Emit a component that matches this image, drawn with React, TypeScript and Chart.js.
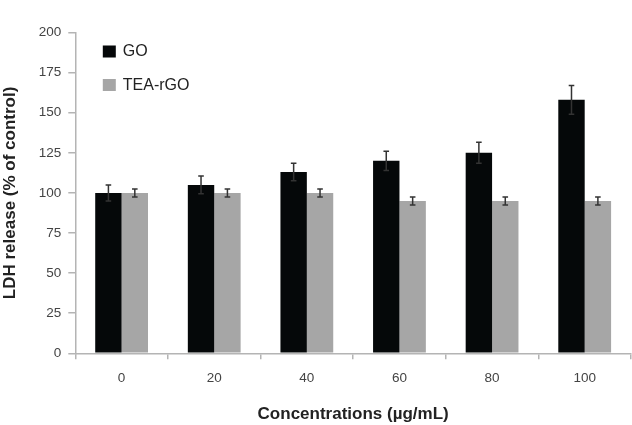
import React, { useRef, useEffect } from "react";
import { Chart, Plugin, registerables } from "chart.js";

Chart.register(...registerables);

const categories = ["0", "20", "40", "60", "80", "100"];
const goValues = [100, 105, 113, 120, 125, 158];
const goErrors = [5, 5.5, 5.5, 6, 6.5, 9];
const teaValues = [100, 100, 100, 95, 95, 95];
const teaErrors = [2.5, 2.5, 2.5, 2.5, 2.5, 2.5];
const seriesErrors = [goErrors, teaErrors];

const FONT = "'Liberation Sans', Arial, Helvetica, sans-serif";
const AXIS_COLOR = "#b4b4b4";

// error bars, placed from each bar element and the y scale
const errorBars: Plugin<"bar"> = {
  id: "errorBars",
  afterDatasetsDraw(chart) {
    const { ctx } = chart;
    const yScale = chart.scales.y;
    ctx.save();
    ctx.strokeStyle = "#333";
    ctx.lineWidth = 1.5;
    chart.data.datasets.forEach((ds, i) => {
      const meta = chart.getDatasetMeta(i);
      const errs = seriesErrors[i];
      meta.data.forEach((bar, j) => {
        const v = ds.data[j] as number;
        const top = yScale.getPixelForValue(v + errs[j]);
        const bot = yScale.getPixelForValue(v - errs[j]);
        const x = bar.x;
        ctx.beginPath();
        ctx.moveTo(x, top);
        ctx.lineTo(x, bot);
        ctx.moveTo(x - 2.8, top);
        ctx.lineTo(x + 2.8, top);
        ctx.moveTo(x - 2.8, bot);
        ctx.lineTo(x + 2.8, bot);
        ctx.stroke();
      });
    });
    ctx.restore();
  },
};

// legend in the upper left of the plot
const innerLegend: Plugin<"bar"> = {
  id: "innerLegend",
  afterDraw(chart) {
    const { ctx, chartArea } = chart;
    ctx.save();
    ctx.font = `16px ${FONT}`;
    ctx.textBaseline = "middle";
    chart.data.datasets.forEach((ds, i) => {
      const y = chartArea.top + 19 + i * 33.5;
      ctx.fillStyle = ds.backgroundColor as string;
      ctx.fillRect(chartArea.left + 27.5, y - 6, 13, 12);
      ctx.fillStyle = "#222";
      ctx.fillText(ds.label as string, chartArea.left + 47.5, y + 0.5);
    });
    ctx.restore();
  },
};

const LdhChart: React.FC = () => {
  const canvasRef = useRef<HTMLCanvasElement | null>(null);
  const chartRef = useRef<Chart | null>(null);

  useEffect(() => {
    if (!canvasRef.current) return;
    const ctx = canvasRef.current.getContext("2d");
    if (!ctx) return;

    chartRef.current = new Chart(ctx, {
      type: "bar",
      data: {
        labels: categories,
        datasets: [
          { label: "GO", data: goValues, backgroundColor: "#050809" },
          { label: "TEA-rGO", data: teaValues, backgroundColor: "#a6a6a6" },
        ],
      },
      options: {
        animation: false,
        responsive: true,
        maintainAspectRatio: false,
        layout: { padding: { top: 32.5, right: 1, left: 0, bottom: 0 } },
        datasets: { bar: { barPercentage: 1, categoryPercentage: 0.57 } },
        plugins: {
          legend: { display: false },
          tooltip: { enabled: false },
        },
        scales: {
          x: {
            grid: {
              drawOnChartArea: false,
              color: AXIS_COLOR,
              lineWidth: 1.5,
              tickLength: 6,
            },
            border: { color: AXIS_COLOR, width: 1.5 },
            ticks: { color: "#444", font: { family: FONT, size: 13.5 }, padding: 11 },
            title: {
              display: true,
              text: "Concentrations (µg/mL)",
              color: "#222",
              font: { family: FONT, size: 17, weight: "bold" },
              padding: { top: 0, bottom: 0 },
            },
            afterFit(scale) {
              scale.height = 71.7;
            },
          },
          y: {
            min: 0,
            max: 200,
            ticks: {
              stepSize: 25,
              color: "#444",
              font: { family: FONT, size: 13.5 },
              padding: 7,
            },
            grid: {
              drawOnChartArea: false,
              color: AXIS_COLOR,
              lineWidth: 1.5,
              tickLength: 7,
            },
            border: { color: AXIS_COLOR, width: 1.5 },
            title: {
              display: true,
              text: "LDH release (% of control)",
              color: "#222",
              font: { family: FONT, size: 17, weight: "bold" },
              padding: 0,
            },
            afterFit(scale) {
              scale.width = 75.3;
            },
          },
        },
      },
      plugins: [errorBars, innerLegend],
    });

    return () => {
      chartRef.current?.destroy();
    };
  }, []);

  return (
    <div style={{ position: "fixed", left: 0, top: 0, width: 632, height: 425, background: "#fff" }}>
      <canvas ref={canvasRef}></canvas>
    </div>
  );
};

export default function App() {
  return <LdhChart />;
}
